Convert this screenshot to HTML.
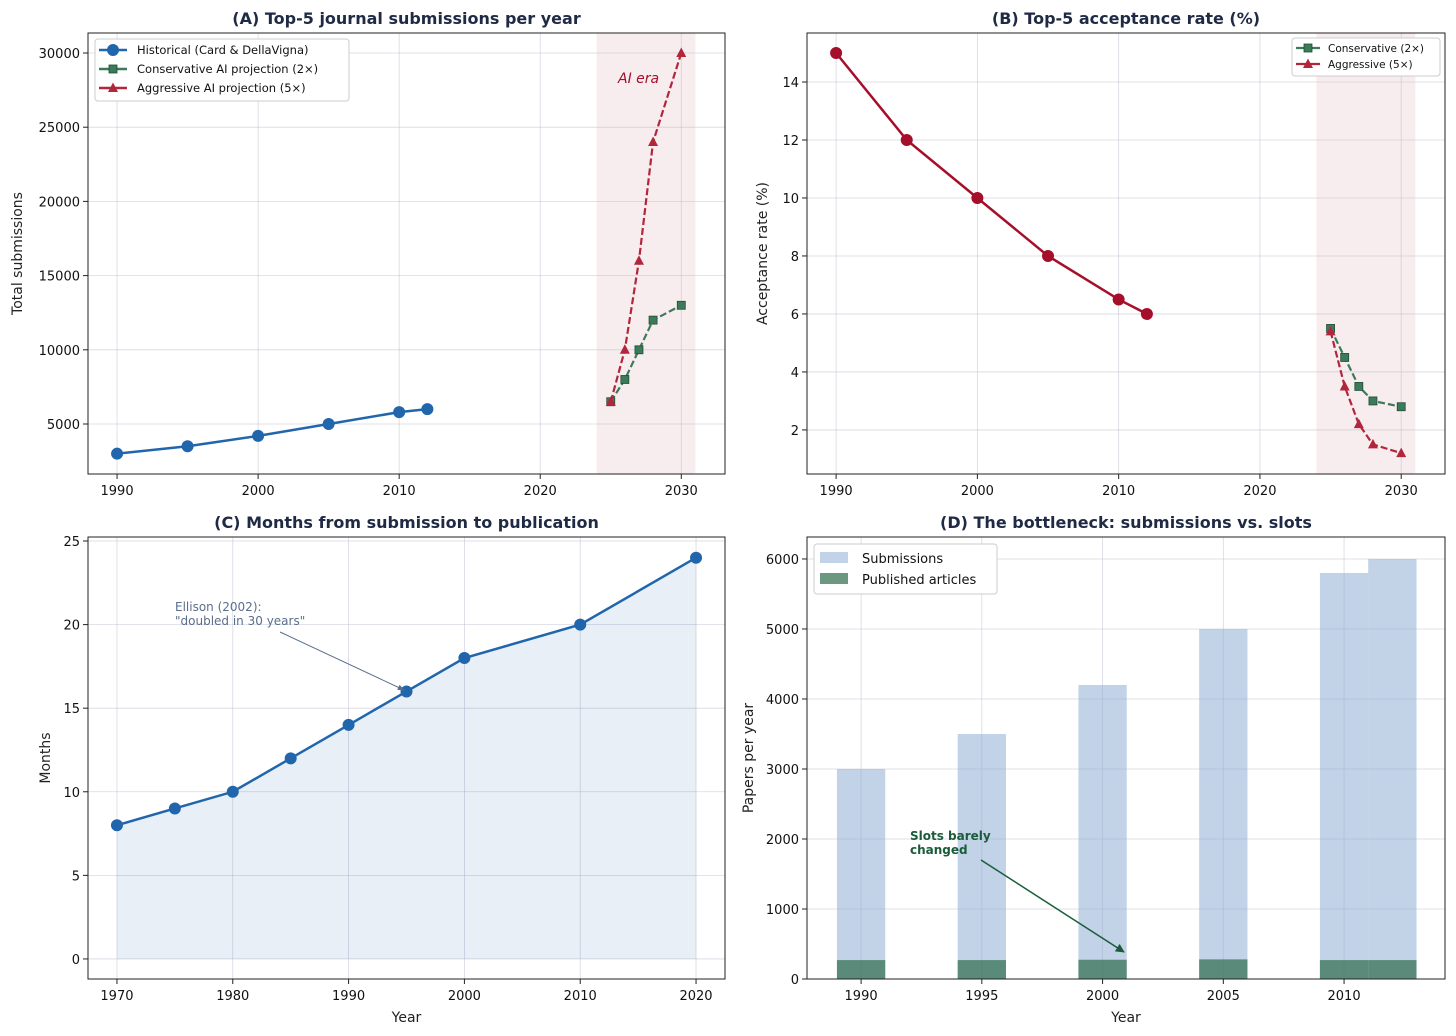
<!DOCTYPE html>
<html><head><meta charset="utf-8"><style>
body{margin:0;background:#fff;}
svg{display:block;font-family:"DejaVu Sans","Liberation Sans",sans-serif;}
</style></head><body>
<svg id="c" width="1456" height="1036" xmlns="http://www.w3.org/2000/svg"></svg>
<script>
// ---- data ----
const aHistYears=[1990,1995,2000,2005,2010,2012];
const aHistVals=[3000,3500,4200,5000,5800,6000];
const projYears=[2025,2026,2027,2028,2030];
const aConsVals=[6500,8000,10000,12000,13000];
const aAggrVals=[6500,10000,16000,24000,30000];
const bHistVals=[15,12,10,8,6.5,6];
const bConsVals=[5.5,4.5,3.5,3.0,2.8];
const bAggrVals=[5.4,3.5,2.2,1.5,1.2];
const cYears=[1970,1975,1980,1985,1990,1995,2000,2010,2020];
const cVals=[8,9,10,12,14,16,18,20,24];
const dYears=[1990,1995,2000,2005,2010,2012];
const dSubs=[3000,3500,4200,5000,5800,6000];
const dPub=[270,270,275,280,270,270];
const aXTicks=[1990,2000,2010,2020,2030];
const aYTicks=[5000,10000,15000,20000,25000,30000];
const bYTicks=[2,4,6,8,10,12,14];
const cXTicks=[1970,1980,1990,2000,2010,2020];
const cYTicks=[0,5,10,15,20,25];
const dXTicks=[1990,1995,2000,2005,2010];
const dYTicks=[0,1000,2000,3000,4000,5000,6000];

const NS="http://www.w3.org/2000/svg";
const svg=document.getElementById('c');
function mk(tag,attrs,parent,text){const e=document.createElementNS(NS,tag);for(const k in attrs)e.setAttribute(k,attrs[k]);if(text!==undefined)e.textContent=text;(parent||svg).appendChild(e);return e;}
function panel(id,box,xd,yd){
  const g=mk('g',{});
  
  
  const sx=v=>box.x0+(v-xd[0])/(xd[1]-xd[0])*(box.x1-box.x0);
  const sy=v=>box.y1-(v-yd[0])/(yd[1]-yd[0])*(box.y1-box.y0);
  return {g,sx,sy,box};
}
function axes(p,xt,yt,title,xl,yl){
  const {g,sx,sy,box}=p;
  xt.forEach(t=>{const x=sx(t);mk('line',{x1:x,x2:x,y1:box.y0,y2:box.y1,stroke:'#b0b4c8','stroke-opacity':0.5,'stroke-width':0.8},g);
    mk('line',{x1:x,x2:x,y1:box.y1,y2:box.y1+5,stroke:'#222'},g);
    const t1=mk('text',{x:x,y:box.y1+21,'text-anchor':'middle','font-size':13,fill:'#111'},g,t);
    });
  yt.forEach(t=>{const y=sy(t);mk('line',{x1:box.x0,x2:box.x1,y1:y,y2:y,stroke:'#b0b4c8','stroke-opacity':0.5,'stroke-width':0.8},g);
    mk('line',{x1:box.x0-5,x2:box.x0,y1:y,y2:y,stroke:'#222'},g);
    const t1=mk('text',{x:box.x0-8,y:y+5,'text-anchor':'end','font-size':13,fill:'#111'},g,t);
    });
  const tt=mk('text',{x:(box.x0+box.x1)/2,y:box.y0-9,'text-anchor':'middle','font-size':16,'font-weight':'bold',fill:'#1f2a44'},g,title);
  
  if(xl){const e=mk('text',{x:(box.x0+box.x1)/2,y:box.y1+43,'text-anchor':'middle','font-size':14,fill:'#222'},g,xl);}
  if(yl){const cy=(box.y0+box.y1)/2,cx=box.x0-(yl.off||0);const e=mk('text',{x:cx,y:cy,'text-anchor':'middle','font-size':14,fill:'#222',transform:`rotate(-90 ${cx} ${cy})`},g,yl.t);}
}
function frame(p){const {g,box}=p;mk('rect',{x:box.x0,y:box.y0,width:box.x1-box.x0,height:box.y1-box.y0,fill:'none',stroke:'#222','stroke-width':1},g);}
function line(p,xs,ys,color,opts){
  const pts=xs.map((x,i)=>p.sx(x)+','+p.sy(ys[i])).join(' ');
  const l=mk('polyline',{points:pts,fill:'none',stroke:color,'stroke-width':opts.w||2.5,'stroke-dasharray':opts.dash||'', 'stroke-opacity':opts.op||1},p.g);
  
  xs.forEach((x,i)=>{marker(p.g,p.sx(x),p.sy(ys[i]),color,opts.m,opts.name+'-point');});
}
function marker(g,x,y,color,m,name){
  let e;
  if(m==='o')e=mk('circle',{cx:x,cy:y,r:5.5,fill:color,stroke:color},g);
  else if(m==='s')e=mk('rect',{x:x-4,y:y-4,width:8,height:8,fill:color,stroke:'#1f4d34','stroke-width':0.8},g);
  else e=mk('polygon',{points:`${x},${y-5.5} ${x-5},${y+4} ${x+5},${y+4}`,fill:color},g);
  
}
const BLUE='#2166ac',GREEN='#3d7a5a',RED='#b2263b',DRED='#a50f2a';

// Panel A
const A=panel('panel-a-submissions',{x0:88,x1:725,y0:33,y1:474},[1987.94,2033.1],[1631,31348]);
mk('rect',{x:A.sx(2024),y:33,width:A.sx(2031)-A.sx(2024),height:441,fill:'#f6e8ea',opacity:0.8},A.g);
axes(A,aXTicks,aYTicks,'(A) Top-5 journal submissions per year',null,{t:'Total submissions',off:66});
line(A,aHistYears,aHistVals,BLUE,{m:'o',name:'historical'});
line(A,projYears,aConsVals,GREEN,{m:'s',dash:'7 3',w:2.2,name:'conservative'});
line(A,projYears,aAggrVals,RED,{m:'^',dash:'7 3',w:2.2,name:'aggressive'});
const ai=mk('text',{x:618,y:83,'font-size':14,'font-style':'italic',fill:'#a50f2a'},A.g,'AI era');
frame(A);
(function(){const g=mk('g',{});
mk('rect',{x:95,y:39,width:254,height:62,rx:3,fill:'#fff',stroke:'#ccc'},g);
[['Historical (Card & DellaVigna)',BLUE,'o',''],['Conservative AI projection (2×)',GREEN,'s','6 3'],['Aggressive AI projection (5×)',RED,'^','6 3']].forEach((r,i)=>{const y=50+i*19;
mk('line',{x1:99,x2:127,y1:y,y2:y,stroke:r[1],'stroke-width':2.5},g);marker(g,113,y,r[1],r[2],'legend-marker');
const t=mk('text',{x:137,y:y+4,'font-size':11.5,fill:'#111'},g,r[0]);});})();

// Panel B
const B=panel('panel-b-acceptance',{x0:807,x1:1445,y0:33,y1:474},[1987.94,2033.1],[0.48,15.69]);
mk('rect',{x:B.sx(2024),y:33,width:B.sx(2031)-B.sx(2024),height:441,fill:'#f6e8ea',opacity:0.8},B.g);
axes(B,aXTicks,bYTicks,'(B) Top-5 acceptance rate (%)',null,{t:'Acceptance rate (%)',off:40});
line(B,aHistYears,bHistVals,DRED,{m:'o',name:'historical-acceptance'});
line(B,projYears,bConsVals,GREEN,{m:'s',dash:'7 3',w:2.2,name:'conservative-acceptance'});
line(B,projYears,bAggrVals,RED,{m:'^',dash:'7 3',w:2.2,name:'aggressive-acceptance'});
frame(B);
(function(){const g=mk('g',{});
mk('rect',{x:1292,y:38,width:148,height:38,rx:3,fill:'#fff',stroke:'#ccc'},g);
[['Conservative (2×)',GREEN,'s'],['Aggressive (5×)',RED,'^']].forEach((r,i)=>{const y=48+i*16;
mk('line',{x1:1296,x2:1320,y1:y,y2:y,stroke:r[1],'stroke-width':2.2},g);marker(g,1308,y,r[1],r[2],'legend-marker');
const t=mk('text',{x:1328,y:y+4,'font-size':10.5,fill:'#111'},g,r[0]);});})();

// Panel C
const C=panel('panel-c-months',{x0:88,x1:725,y0:537,y1:979},[1967.5,2022.5],[-1.2,25.24]);
axes(C,cXTicks,cYTicks,'(C) Months from submission to publication','Year',{t:'Months',off:38});
const area='M'+C.sx(cYears[0])+','+C.sy(0)+' '+cYears.map((y,i)=>'L'+C.sx(y)+','+C.sy(cVals[i])).join(' ')+' L'+C.sx(cYears[cYears.length-1])+','+C.sy(0)+'Z';
const ar=mk('path',{d:area,fill:BLUE,'fill-opacity':0.1},C.g);
line(C,cYears,cVals,BLUE,{m:'o',name:'months'});
mk('text',{x:175,y:611,'font-size':12,fill:'#5a6e8c'},C.g,'Ellison (2002):');
mk('text',{x:175,y:625,'font-size':12,fill:'#5a6e8c'},C.g,'"doubled in 30 years"');
mk('defs',{},svg).innerHTML='<marker id="ah" viewBox="0 0 10 10" refX="9" refY="5" markerWidth="7" markerHeight="7" orient="auto"><path d="M0,1 L10,5 L0,9z" fill="context-stroke"/></marker><marker id="ahg" viewBox="0 0 10 10" refX="9" refY="5" markerWidth="6" markerHeight="6" orient="auto"><path d="M0,0 L10,5 L0,10z" fill="#1a5c3a"/></marker><marker id="ahb" viewBox="0 0 10 10" refX="9" refY="5" markerWidth="7" markerHeight="7" orient="auto"><path d="M0,1 L10,5 L0,9z" fill="#5a6e8c"/></marker>';
mk('line',{x1:280,y1:632,x2:404,y2:690,stroke:'#5a6e8c','stroke-width':1,'marker-end':'url(#ahb)'},C.g);
frame(C);

// Panel D
const D=panel('panel-d-bottleneck',{x0:807,x1:1445,y0:537,y1:979},[1987.76,2014.18],[0,6314]);
axes(D,dXTicks,dYTicks,'(D) The bottleneck: submissions vs. slots','Year',{t:'Papers per year',off:54});
dYears.forEach((yr,i)=>{const x0=D.sx(yr-1),x1=D.sx(yr+1);
  const b=mk('rect',{x:x0,y:D.sy(dSubs[i]),width:x1-x0,height:D.sy(0)-D.sy(dSubs[i]),fill:'#8fadd4','fill-opacity':0.55},D.g);
  
  const p=mk('rect',{x:x0,y:D.sy(dPub[i]),width:x1-x0,height:D.sy(0)-D.sy(dPub[i]),fill:'#2e6b4a','fill-opacity':0.7},D.g);
  });
mk('text',{x:910,y:840,'font-size':12,'font-weight':'bold',fill:'#1a5c3a'},D.g,'Slots barely');
mk('text',{x:910,y:854,'font-size':12,'font-weight':'bold',fill:'#1a5c3a'},D.g,'changed');
mk('line',{x1:981,y1:860,x2:1124,y2:952,stroke:'#1a5c3a','stroke-width':1.5,'marker-end':'url(#ahg)'},D.g);
frame(D);
(function(){const g=mk('g',{});
mk('rect',{x:814,y:544,width:183,height:50,rx:3,fill:'#fff',stroke:'#ccc'},g);
[['Submissions','#8fadd4',0.55],['Published articles','#2e6b4a',0.7]].forEach((r,i)=>{const y=558+i*21;
mk('rect',{x:820,y:y-6,width:28,height:11,fill:r[1],'fill-opacity':r[2]},g);
const t=mk('text',{x:862,y:y+5,'font-size':13,fill:'#111'},g,r[0]);});})();
</script>
</body></html>
